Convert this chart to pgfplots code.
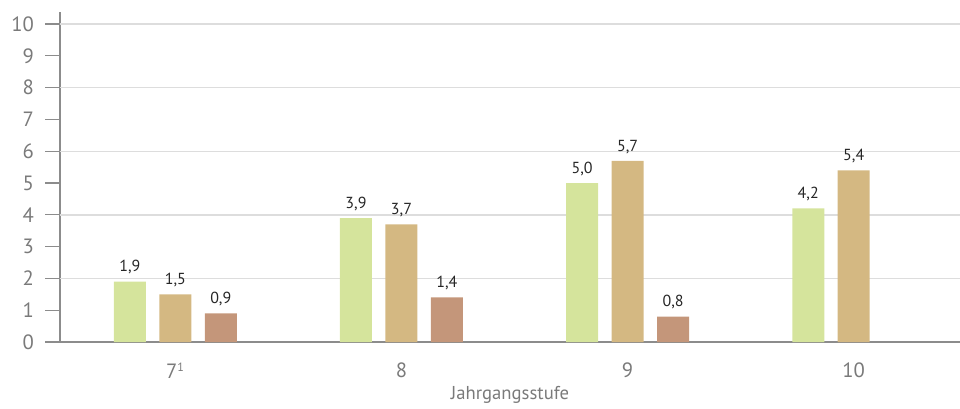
\documentclass[border=0pt]{standalone}
\usepackage{pgfplots}
\pgfplotsset{compat=1.18}
\usepackage{fontspec}
\setmainfont{PT Sans}
\usetikzlibrary{calc}
\definecolor{cgreen}{HTML}{D5E49C}
\definecolor{ctan}{HTML}{D4B882}
\definecolor{cbrown}{HTML}{C4967A}
\definecolor{tickgray}{HTML}{7A7A7A}
\definecolor{axgray}{HTML}{8C8C8C}
\definecolor{gridgray}{HTML}{DDDDDD}
\begin{document}
\begin{tikzpicture}
\begin{axis}[
  name=ax,
  scale only axis,
  width=675pt, height=247.5pt,
  xmin=-0.51, xmax=3.47,
  ymin=0, ymax=10.38,
  axis lines=left,
  axis line style={-, axgray, line width=0.9pt},
  ybar,
  bar width=24pt,
  xtick={0,1,2,3},
  xticklabels={7\textsuperscript{\fontsize{9}{10}\selectfont 1},8,9,10},
  x tick style={draw=none},
  ytick={0,1,...,10},
  y tick style={axgray, line width=0.9pt},
  tick align=outside,
  major tick length=11pt,
  extra y ticks={2,4,6,8,10},
  extra y tick labels={},
  extra y tick style={grid=major, major tick length=0pt},
  grid style={gridgray, line width=1.1pt},
  ticklabel style={font=\fontsize{15.5}{17}\selectfont, text=tickgray},
  /pgf/number format/assume math mode=true,
  yticklabel style={xshift=-5pt},
  xticklabel style={yshift=-1pt},
  xlabel={Jahrgangsstufe},
  xlabel style={font=\fontsize{14}{16}\selectfont, text=tickgray, yshift=1pt},
  nodes near coords,
  nodes near coords style={font=\fontsize{12}{14}\selectfont, text=black!85, yshift=2pt,
    /pgf/number format/use comma, /pgf/number format/fixed, /pgf/number format/fixed zerofill,
    /pgf/number format/precision=1, /pgf/number format/assume math mode=true},
  clip=false,
]
\addplot[fill=cgreen, draw=none, bar shift=-34.1pt] coordinates {(0,1.9) (1,3.9) (2,5.0) (3,4.2)};
\addplot[fill=ctan, draw=none, bar shift=0pt] coordinates {(0,1.5) (1,3.7) (2,5.7) (3,5.4)};
\addplot[fill=cbrown, draw=none, bar shift=34.1pt] coordinates {(0,0.9) (1,1.4) (2,0.8)};
\end{axis}
\pgfresetboundingbox
\path ($(ax.south west)+(-45pt,-49.5pt)$) rectangle ($(ax.north east)+(0pt,9pt)$);
\end{tikzpicture}
\end{document}
